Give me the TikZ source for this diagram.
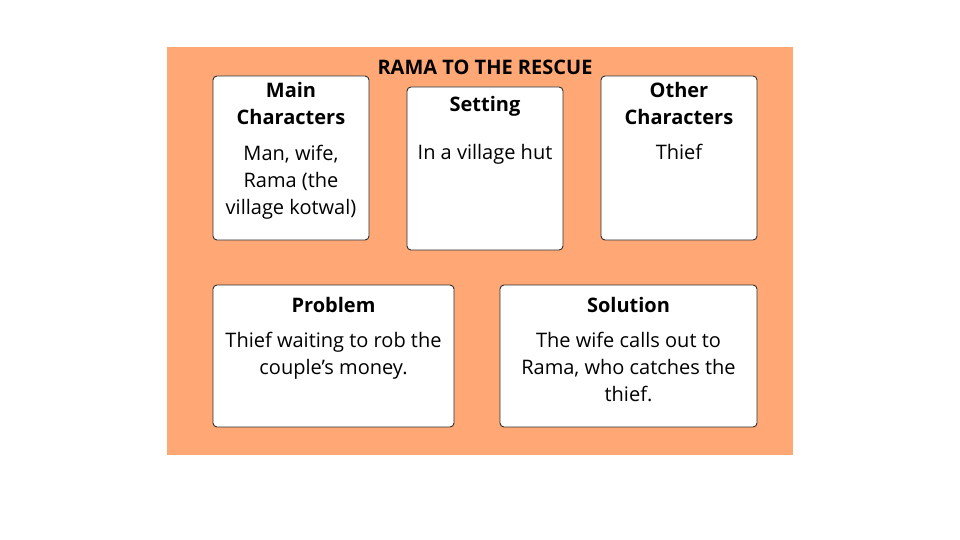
\documentclass[tikz,border=0pt]{standalone}
\usepackage{fontspec}
\setmainfont{Open Sans}
\usetikzlibrary{positioning}
\definecolor{peach}{RGB}{255,168,117}
\definecolor{edge}{RGB}{45,45,45}
\tikzset{
	card/.style={draw=edge,fill=white,rounded corners=4pt,line width=0.9pt,inner sep=0pt},
	head/.style={font=\fontsize{20}{27}\selectfont\bfseries,align=center,inner sep=0pt,execute at begin node=\strut},
	body/.style={font=\fontsize{20}{27}\selectfont,align=center,inner sep=0pt,execute at begin node=\strut},
}

\begin{document}
\begin{tikzpicture}[x=1pt,y=-1pt]
	\useasboundingbox (0,0) rectangle (960,540);
	\fill[peach] (167,47) rectangle (793,455);
	\node[head,anchor=north] (title) at (485,55) {RAMA TO THE RESCUE};
	% top row
	\node[card,minimum width=156pt,minimum height=164pt] (main) at (291,158) {};
	\node[card,minimum width=156pt,minimum height=163pt] (setting) at (485,168.5) {};
	\node[card,minimum width=156pt,minimum height=164pt] (other) at (679,158) {};
	\node[head,below=7pt of main.north] (mainhead) {Main\\Characters};
	\node[body,below=69pt of main.north] (maintext) {Man, wife,\\Rama (the\\village kotwal)};
	\node[head,below=6pt of setting.north] (settinghead) {Setting};
	\node[body,below=54pt of setting.north] (settingtext) {In a village hut};
	\node[head,below=7pt of other.north] (otherhead) {Other\\Characters};
	\node[body,below=65pt of other.north] (othertext) {Thief};
	% bottom row
	\node[card,minimum width=241pt,minimum height=142pt] (problem) at (333.5,356) {};
	\node[card,minimum width=257pt,minimum height=142pt] (solution) at (628.5,356) {};
	\node[head,below=9pt of problem.north] (problemhead) {Problem};
	\node[body,below=47pt of problem.north] (problemtext) {Thief waiting to rob the\\couple’s money.};
	\node[head,below=9pt of solution.north] (solutionhead) {Solution};
	\node[body,below=47pt of solution.north] (solutiontext) {The wife calls out to\\Rama, who catches the\\thief.};
\end{tikzpicture}
\end{document}
